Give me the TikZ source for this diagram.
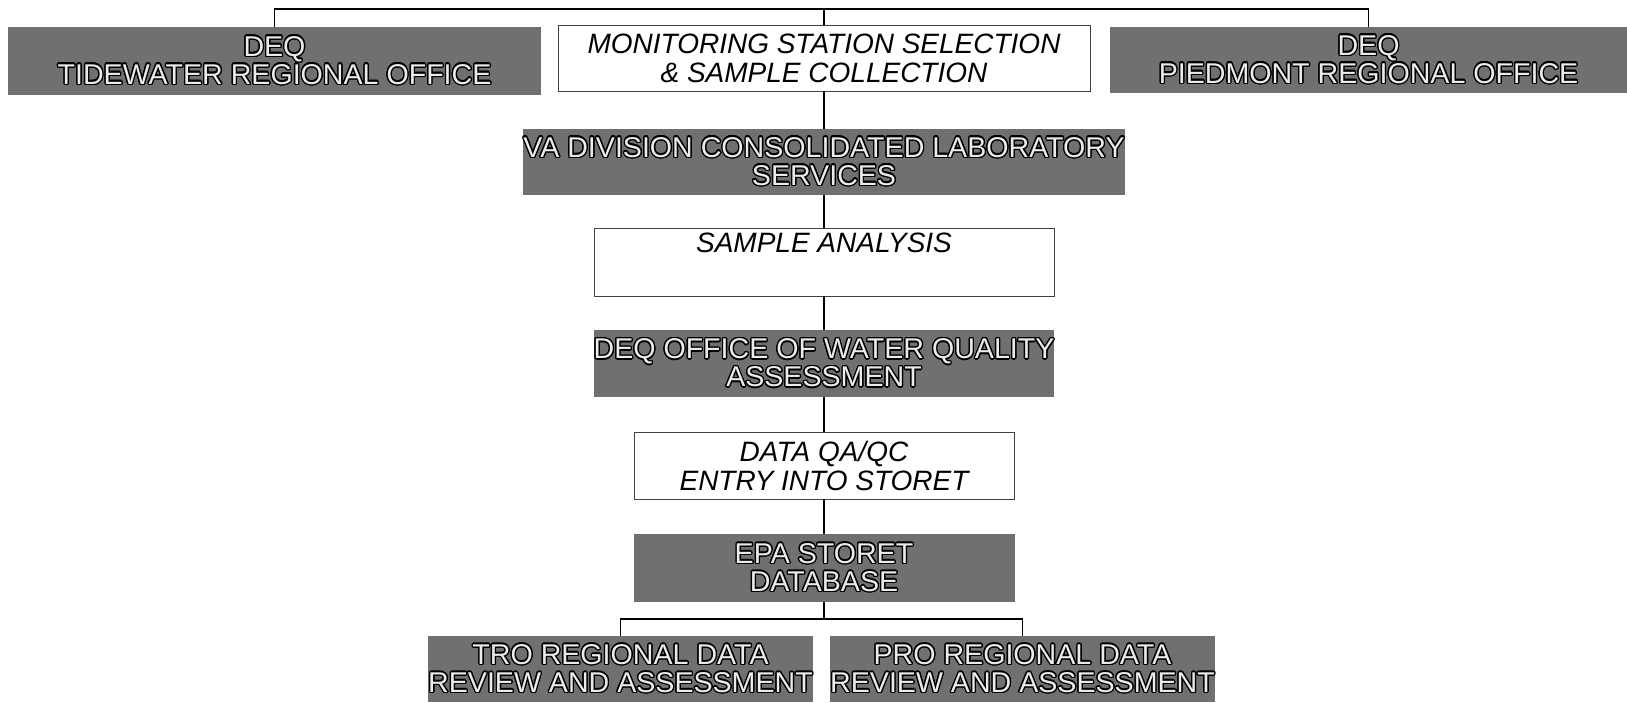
\documentclass[tikz,border=0pt]{standalone}
\usepackage{fontspec}
\setmainfont{Liberation Sans}
\usepackage[copies]{contour}
\contourlength{1.3pt}
\newcommand{\olt}[1]{\contour{black}{\textcolor{white!92!black}{#1}}}
\begin{document}
\begin{tikzpicture}[x=1pt,y=-1pt,
  darkbox/.style={fill=black!56, draw=none, inner sep=0pt, align=center,
    font=\fontsize{28.6}{28}\selectfont},
  lightbox/.style={fill=white, draw=black!75, line width=0.8pt, inner sep=0pt, align=center,
    font=\fontsize{28}{29}\selectfont\itshape},
  conn/.style={line width=1.3pt, draw=black}]
\useasboundingbox (0,0) rectangle (1627,702);
\node[darkbox, minimum width=533pt, minimum height=68pt] (tw) at (274.5,61) {\olt{DEQ}\\\olt{TIDEWATER REGIONAL OFFICE}};
\node[lightbox, minimum width=532pt, minimum height=66pt] (mon) at (824,58) {MONITORING STATION SELECTION\\\& SAMPLE COLLECTION};
\node[darkbox, minimum width=517pt, minimum height=66pt] (pd) at (1368.5,60) {\olt{DEQ}\\\olt{PIEDMONT REGIONAL OFFICE}};
\node[darkbox, minimum width=600pt, minimum height=66pt] (va) at (824,162) {\olt{VA DIVISION CONSOLIDATED LABORATORY}\\\olt{SERVICES}};
\node[lightbox, minimum width=460pt, minimum height=68pt] (sa) at (824,262) {SAMPLE ANALYSIS\\\strut};
\node[darkbox, minimum width=460pt, minimum height=67pt] (deq) at (824,363.5) {\olt{DEQ OFFICE OF WATER QUALITY}\\\olt{ASSESSMENT}};
\node[lightbox, minimum width=380pt, minimum height=67pt] (qa) at (824,465.5) {DATA QA/QC\\ENTRY INTO STORET};
\node[darkbox, minimum width=381pt, minimum height=68pt] (epa) at (824,568) {\olt{EPA STORET}\\\olt{DATABASE}};
\node[darkbox, minimum width=381pt, minimum height=66pt] (tro) at (620.5,669) {\olt{TRO REGIONAL DATA}\\\olt{REVIEW AND ASSESSMENT}};
\node[darkbox, minimum width=379pt, minimum height=66pt] (pro) at (1022.5,669) {\olt{PRO REGIONAL DATA}\\\olt{REVIEW AND ASSESSMENT}};
\coordinate (top) at (824,9);
\coordinate (br) at (824,619);
\draw[conn] (tw.north) |- (top) -| (pd.north);
\draw[conn] (top) -- (mon.north);
\draw[conn] (mon.south) -- (va.north);
\draw[conn] (va.south) -- (sa.north);
\draw[conn] (sa.south) -- (deq.north);
\draw[conn] (deq.south) -- (qa.north);
\draw[conn] (qa.south) -- (epa.north);
\draw[conn] (epa.south) -- (br);
\draw[conn] (tro.north) |- (br) -| (pro.north);
\end{tikzpicture}
\end{document}
